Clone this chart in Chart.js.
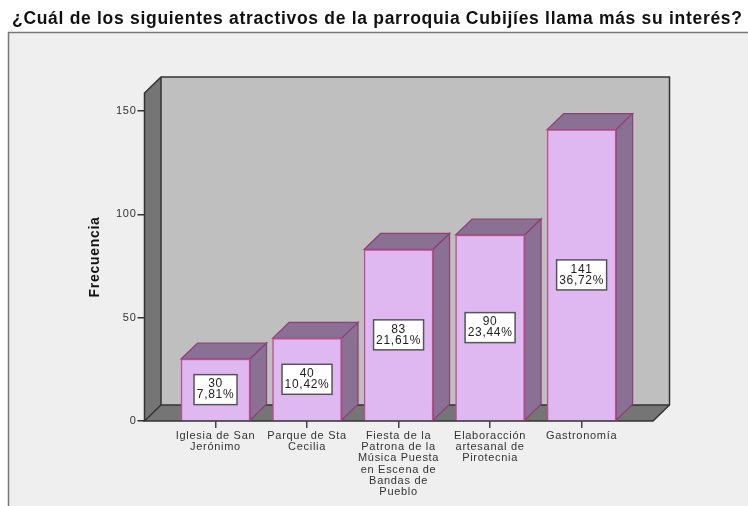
<!DOCTYPE html>
<html lang="es">
<head>
<meta charset="utf-8">
<title>Atractivos de la parroquia Cubijíes</title>
<script src="https://cdn.jsdelivr.net/npm/chart.js@4"></script>
<style>
    html, body { margin: 0; padding: 0; background: #fff; overflow: hidden; }
    canvas { display: block; }
</style>
</head>
<body>
<canvas id="chart" width="748" height="506"></canvas>
<script>
const titleText = "¿Cuál de los siguientes atractivos de la parroquia Cubijíes llama más su interés?";
const axisTitle = "Frecuencia";
const categories = [
    ["Iglesia de San", "Jerónimo"],
    ["Parque de Sta", "Cecilia"],
    ["Fiesta de la", "Patrona de la", "Música Puesta", "en Escena de", "Bandas de", "Pueblo"],
    ["Elaboracción", "artesanal de", "Pirotecnia"],
    ["Gastronomía"]
];
const frequencies = [30, 40, 83, 90, 141];
const percentages = ["7,81%", "10,42%", "21,61%", "23,44%", "36,72%"];
const yTicks = [0, 50, 100, 150];

const DEPTH_X = 16.5;
const DEPTH_Y = 16;

function poly(ctx, pts, fill, stroke, lw) {
    ctx.beginPath();
    pts.forEach((p, i) => i ? ctx.lineTo(p[0], p[1]) : ctx.moveTo(p[0], p[1]));
    ctx.closePath();
    ctx.fillStyle = fill;
    ctx.fill();
    if (stroke) {
        ctx.strokeStyle = stroke;
        ctx.lineWidth = lw;
        ctx.stroke();
    }
}

// grey panel behind the chart, and the walls/floor of the 3D box
const boxPlugin = {
    id: "box",
    // the title box stops at the right padding and would squeeze the text
    afterLayout(chart) {
        chart.titleBlock.right = chart.width;
    },
    beforeDraw(chart) {
        const ctx = chart.ctx;
        // the text in the picture runs wider than Liberation Sans
        ctx.letterSpacing = "0.7px";
        ctx.save();
        ctx.fillStyle = "#efefef";
        ctx.fillRect(9, 33, 739, 473);
        ctx.strokeStyle = "#777";
        ctx.lineWidth = 1.5;
        ctx.beginPath();
        ctx.moveTo(8.5, 506);
        ctx.lineTo(8.5, 32.5);
        ctx.lineTo(748, 32.5);
        ctx.stroke();

        const a = chart.chartArea;
        const bl = a.left + DEPTH_X, br = a.right + DEPTH_X;
        const bt = a.top - DEPTH_Y, bb = a.bottom - DEPTH_Y;
        poly(ctx, [[bl, bt], [br, bt], [br, bb], [bl, bb]], "#bfbfbf");
        poly(ctx, [[a.left, a.top], [bl, bt], [bl, bb], [a.left, a.bottom]], "#757575");
        poly(ctx, [[a.left, a.bottom], [bl, bb], [br, bb], [a.right, a.bottom]], "#757575");

        ctx.strokeStyle = "#333";
        ctx.lineWidth = 1.5;
        ctx.beginPath();
        ctx.moveTo(a.left, a.bottom);
        ctx.lineTo(a.left, a.top);
        ctx.lineTo(bl, bt);
        ctx.lineTo(br, bt);
        ctx.lineTo(br, bb);
        ctx.lineTo(a.right, a.bottom);
        ctx.lineTo(a.left, a.bottom);
        ctx.lineTo(bl, bb);
        ctx.lineTo(br, bb);
        ctx.moveTo(bl, bt);
        ctx.lineTo(bl, bb);
        ctx.stroke();
        ctx.restore();
    },
    // top and side of every bar, the front comes from the dataset itself
    beforeDatasetsDraw(chart) {
        const ctx = chart.ctx;
        ctx.save();
        chart.getDatasetMeta(0).data.forEach(bar => {
            const l = bar.x - bar.width / 2, r = bar.x + bar.width / 2;
            const t = bar.y, b = bar.base;
            poly(ctx, [[l, t], [l + DEPTH_X, t - DEPTH_Y], [r + DEPTH_X, t - DEPTH_Y], [r, t]], "#8a7092", "#8f3f78", 1.2);
            poly(ctx, [[r, t], [r + DEPTH_X, t - DEPTH_Y], [r + DEPTH_X, b - DEPTH_Y], [r, b]], "#8a7092", "#8f3f78", 1.2);
        });
        ctx.restore();
    },
    // white boxes with count and percentage
    afterDatasetsDraw(chart) {
        const ctx = chart.ctx;
        ctx.save();
        ctx.font = "12px 'Liberation Sans', Arial, sans-serif";
        ctx.textAlign = "center";
        ctx.textBaseline = "middle";
        chart.getDatasetMeta(0).data.forEach((bar, i) => {
            const w = frequencies[i] === 30 ? 43 : 50;
            const h = 30;
            const cy = (bar.y + bar.base) / 2;
            ctx.fillStyle = "#fff";
            ctx.fillRect(bar.x - w / 2, cy - h / 2, w, h);
            ctx.strokeStyle = "#555";
            ctx.lineWidth = 1.5;
            ctx.strokeRect(bar.x - w / 2, cy - h / 2, w, h);
            ctx.fillStyle = "#222";
            ctx.fillText(String(frequencies[i]), bar.x, cy - 5.5);
            ctx.fillText(percentages[i], bar.x, cy + 5.5);
        });
        ctx.restore();
    }
};

new Chart(document.getElementById("chart"), {
    type: "bar",
    data: {
        datasets: [{
            data: frequencies.map((v, i) => ({ x: i + 1, y: v })),
            backgroundColor: "#dfb8f2",
            borderColor: "#b9508f",
            borderWidth: 1.5,
            barThickness: 69
        }]
    },
    options: {
        responsive: false,
        animation: false,
        events: [],
        layout: { padding: { top: 3, right: 95, bottom: 0, left: 12 } },
        plugins: {
            legend: { display: false },
            tooltip: { enabled: false },
            title: {
                display: true,
                text: titleText,
                align: "start",
                color: "#111",
                font: { family: "'Liberation Sans', Arial, sans-serif", size: 17.5, weight: "bold" },
                padding: { top: 6, bottom: 63 }
            }
        },
        scales: {
            x: {
                type: "linear",
                offset: false,
                min: 0.224,
                max: 5.78,
                afterFit: s => { s.height = 85; },
                afterBuildTicks: s => { s.ticks = categories.map((c, i) => ({ value: i + 1 })); },
                grid: { offset: false, drawOnChartArea: false, drawTicks: true, tickLength: 7, tickColor: "#444", lineWidth: 1.5 },
                border: { display: false },
                ticks: {
                    autoSkip: false,
                    maxRotation: 0,
                    padding: 2,
                    color: "#333",
                    font: { family: "'Liberation Sans', Arial, sans-serif", size: 11, lineHeight: 1.03 },
                    callback: v => categories[v - 1]
                }
            },
            y: {
                min: 0,
                max: 158.7,
                afterFit: s => { s.width = 132.5; },
                afterBuildTicks: s => { s.ticks = yTicks.map(v => ({ value: v })); },
                grid: { drawOnChartArea: false, drawTicks: true, tickLength: 7, tickColor: "#333", lineWidth: 1.5 },
                border: { display: false },
                ticks: {
                    padding: 1,
                    color: "#333",
                    font: { family: "'Liberation Sans', Arial, sans-serif", size: 11 }
                },
                title: {
                    display: true,
                    text: axisTitle,
                    color: "#111",
                    font: { family: "'Liberation Sans', Arial, sans-serif", size: 14, weight: "bold" },
                    padding: { top: 75, bottom: 0 }
                }
            }
        }
    },
    plugins: [boxPlugin]
});
</script>
</body>
</html>
